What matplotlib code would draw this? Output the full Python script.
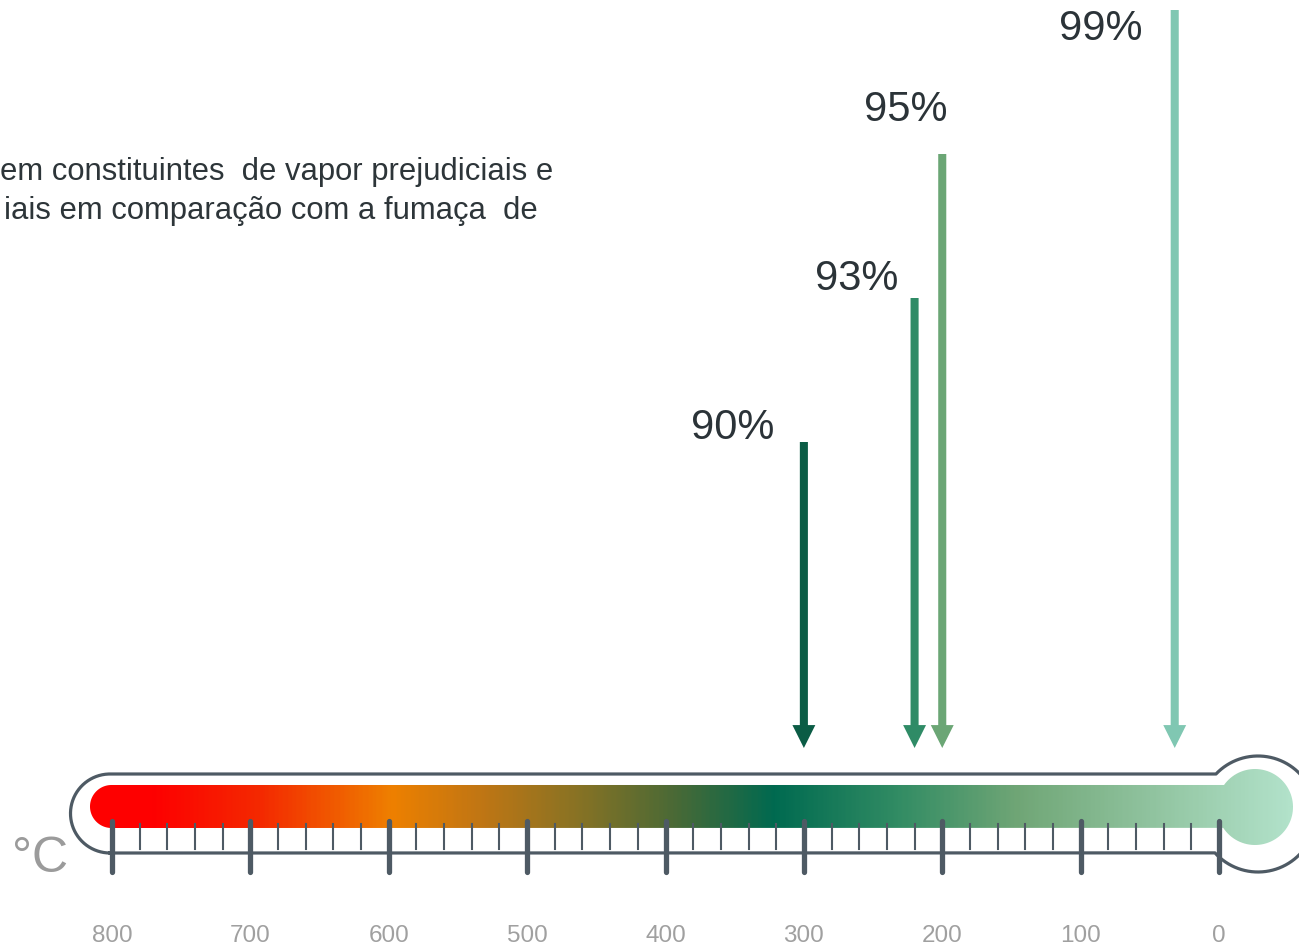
import numpy as np
import matplotlib.pyplot as plt
from matplotlib.colors import LinearSegmentedColormap
from matplotlib.path import Path
from matplotlib.patches import PathPatch

plt.rcParams["font.family"] = ["Liberation Sans", "DejaVu Sans"]

# données
temperatures = [300, 220, 200, 32]          # °C
reductions = ["90%", "93%", "95%", "99%"]
arrow_colors = ["#0B5C45", "#2F8B66", "#6BA675", "#80C7B2"]
ticks_major = list(range(0, 801, 100))
ticks_minor = [t for t in range(0, 801, 20) if t % 100]
texte = ["em constituintes  de vapor prejudiciais e",
         "iais em comparação com a fumaça  de"]

W, H = 1299, 946
PX = (1219 - 112) / 800          # pixels par degré


def px(x):
    """abscisse pixel -> température"""
    return 800 - (x - 112) / PX


def arc(cx, cy, r, a0, a1, n=80):
    a = np.radians(np.linspace(a0, a1, n))
    return np.column_stack([px(cx + r * np.cos(a)), cy + r * np.sin(a)])


fig = plt.figure(figsize=(W / 100, H / 100), dpi=100)
ax = fig.add_axes([0, 0, 1, 1])
ax.set_xlim(px(0), px(W))
ax.set_ylim(H, 0)
ax.axis("off")

# --- tube coloré (dégradé) ---
stops = [(90, "#FF0000"), (150, "#FE0000"), (260, "#F42A00"), (390, "#EE8000"),
         (480, "#C07614"), (570, "#8C7323"), (680, "#466937"), (775, "#006A50"),
         (900, "#328C64"), (1020, "#70A676"), (1293, "#B2E2CA")]
pos = [(p - 90) / (1293 - 90) for p, _ in stops]
cmap = LinearSegmentedColormap.from_list("thermo", list(zip(pos, [c for _, c in stops])))

bar = np.vstack([
    arc(111.5, 806.5, 21.5, 90, 270),
    arc(1255, 807, 38, -144.6, 146.7),
])
clip = PathPatch(Path(np.vstack([bar, bar[:1]]), closed=True), fc="none", ec="none")
ax.add_patch(clip)
im = ax.imshow(np.linspace(0, 1, 600)[None, :], cmap=cmap, aspect="auto",
               extent=(px(90), px(1293), 846, 768), interpolation="bilinear", zorder=1)
im.set_clip_path(clip)

# --- contour du thermomètre ---
outline = np.vstack([
    arc(110, 813.5, 39.5, 90, 270),
    arc(1258, 814, 58, 223.6, 360 + 137.9),
])
outline = np.vstack([outline, outline[:1]])
ax.plot(outline[:, 0], outline[:, 1], color="#4E5A64", lw=2.3, zorder=2)

# --- graduations ---
for t in ticks_minor:
    ax.plot([t, t], [824, 849], color="#4E5A64", lw=1.5, zorder=3)
for t in ticks_major:
    ax.plot([t, t], [821, 872], color="#4E5A64", lw=3.8,
            solid_capstyle="round", zorder=3)
    ax.text(t, 942, str(t), ha="center", va="baseline", fontsize=17.5, color="#A0A0A0")

ax.text(px(12), 872, "°C", ha="left", va="baseline", fontsize=36, color="#9B9B9B")

# --- flèches ---
label_x = [733, 857, 906, 1101]
label_y = [439, 290, 121, 40]
for i, (t, lab, col) in enumerate(zip(temperatures, reductions, arrow_colors)):
    top = 442 - 144 * i
    ax.annotate("", xy=(t, 748), xytext=(t, top),
                arrowprops=dict(arrowstyle="simple,head_length=16.5,head_width=16.5,tail_width=5.8",
                                mutation_scale=1, fc=col, ec="none", lw=0,
                                shrinkA=0, shrinkB=0), zorder=4)
    ax.text(px(label_x[i]), label_y[i], lab, ha="center", va="baseline",
            fontsize=30, color="#2B3338")

# --- texte (coupé à gauche) ---
ax.text(px(553), 180, texte[0], ha="right", va="baseline", fontsize=22.3, color="#2D3539")
ax.text(px(538), 219, texte[1], ha="right", va="baseline", fontsize=22.3, color="#2D3539")

fig.savefig("out.png", dpi=100)
